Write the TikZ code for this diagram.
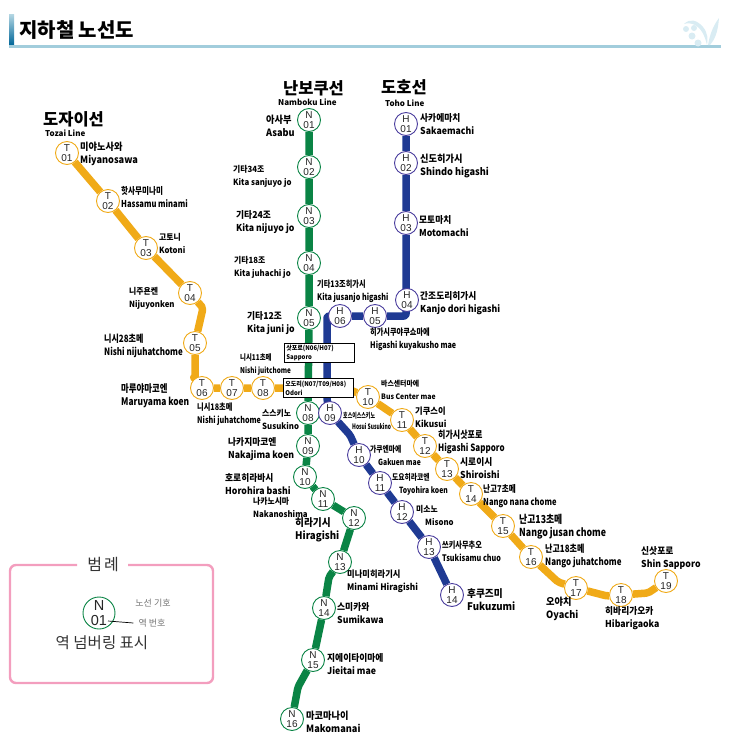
\documentclass[tikz,border=0pt]{standalone}
\usepackage{fontspec}
\setmainfont{Noto Sans CJK KR}
\newfontfamily\stnfont{Liberation Sans}
\newfontfamily\widefont[FakeStretch=0.92]{Noto Sans CJK KR}
\newfontfamily\narrowfont[FakeStretch=0.8]{Noto Sans CJK KR}
\newfontfamily\thinfont[FakeStretch=0.66]{Noto Sans CJK KR}
\usetikzlibrary{backgrounds}
\definecolor{tozai}{HTML}{F0AA18}
\definecolor{namboku}{HTML}{0A8445}
\definecolor{toho}{HTML}{1F3A93}
\definecolor{tohoring}{HTML}{4B3E9E}
\definecolor{legendpink}{HTML}{F39EBE}
\definecolor{titleblue}{HTML}{A2CDDC}
\definecolor{flowerblue}{HTML}{D9ECF3}
\tikzset{
    stn/.style={circle, draw, fill=white, line width=0.9pt, minimum size=23pt, inner sep=0pt,
        align=center, text=black!85, font=\stnfont\fontsize{10}{10.5}\selectfont},
    tstn/.style={stn, draw=tozai},
    nstn/.style={stn, draw=namboku},
    hstn/.style={stn, draw=tohoring},
    lbl/.style={anchor=west, align=left, inner sep=0pt, font=\widefont\fontsize{#1}{13}\selectfont\bfseries},
    lblnarrow/.style={anchor=west, align=left, inner sep=0pt, font=\narrowfont\fontsize{#1}{13}\selectfont\bfseries},
    lblthin/.style={anchor=west, align=left, inner sep=0pt, font=\thinfont\fontsize{#1}{11.5}\selectfont\bfseries},
    linehead/.style={anchor=west, inner sep=0pt, font=\fontsize{16.5}{18}\selectfont\bfseries},
    linesub/.style={anchor=west, inner sep=0pt, font=\fontsize{8}{9}\selectfont\bfseries},
    transferbox/.style={draw=black, fill=white, line width=0.8pt, anchor=north west, text width=66pt,
        minimum height=19pt, inner xsep=2pt, inner ysep=1pt, align=left, font=\widefont\fontsize{6.5}{9}\selectfont\bfseries},
    route/.style={line width=7.5pt, line join=round, rounded corners=2pt},
}
\begin{document}
\begin{tikzpicture}[x=1pt,y=-1pt]
    \useasboundingbox (0,0) rectangle (736,747);

    \node[inner sep=0pt, anchor=west, font=\fontsize{20}{22}\selectfont\bfseries] (title) at (19,30) {지하철 노선도};
    \shade[top color=titleblue!80, bottom color=teal!80!blue] (9,14) rectangle (14,45);
    \fill[titleblue] (9,45) rectangle (721,48);
    \fill[flowerblue] (686,29) circle (3) (694,28) circle (3) (692,36) circle (3.5) (698,43) circle (3.5);
    \fill[flowerblue] (684,24) .. controls (690,18) and (697,20) .. (703,27) .. controls (708,33) and (708,40) .. (707,45)
        .. controls (705,36) and (701,28) .. (695,25) .. controls (691,23) and (687,23) .. (684,24);
    \fill[flowerblue] (708,45) .. controls (710,34) and (713,26) .. (719,18) .. controls (718,30) and (716,38) .. (710,45) -- cycle;

    \node[linehead] (tozaihead) at (43,119) {도자이선};
    \node[linesub] (tozaisub) at (45,133) {Tozai Line};
    \node[linehead] (nambokuhead) at (283,88) {난보쿠선};
    \node[linesub] (nambokusub) at (278,102) {Namboku Line};
    \node[linehead] (tohohead) at (381,87) {도호선};
    \node[linesub] (tohosub) at (385,103) {Toho Line};

    \node[tstn] (t01) at (67,153) {T\\01};
    \node[tstn] (t02) at (108,201) {T\\02};
    \node[tstn] (t03) at (146,248) {T\\03};
    \node[tstn] (t04) at (190,293) {T\\04};
    \node[tstn] (t05) at (195,343) {T\\05};
    \node[tstn] (t06) at (202,388) {T\\06};
    \node[tstn] (t07) at (232,388) {T\\07};
    \node[tstn] (t08) at (263,388) {T\\08};
    \node[tstn] (t10) at (368,397) {T\\10};
    \node[tstn] (t11) at (402,420) {T\\11};
    \node[tstn] (t12) at (425,446) {T\\12};
    \node[tstn] (t13) at (447,469) {T\\13};
    \node[tstn] (t14) at (471,494) {T\\14};
    \node[tstn] (t15) at (503,526) {T\\15};
    \node[tstn] (t16) at (531,557) {T\\16};
    \node[tstn] (t17) at (576,588) {T\\17};
    \node[tstn] (t18) at (621,595) {T\\18};
    \node[tstn] (t19) at (666,581) {T\\19};

    \node[nstn] (n01) at (309,120) {N\\01};
    \node[nstn] (n02) at (309,167) {N\\02};
    \node[nstn] (n03) at (309,216) {N\\03};
    \node[nstn] (n04) at (309,263) {N\\04};
    \node[nstn] (n05) at (309,318) {N\\05};
    \node[nstn] (n08) at (308,413) {N\\08};
    \node[nstn] (n09) at (308,446) {N\\09};
    \node[nstn] (n10) at (305,477) {N\\10};
    \node[nstn] (n11) at (323,499) {N\\11};
    \node[nstn] (n12) at (354,518) {N\\12};
    \node[nstn] (n13) at (340,562) {N\\13};
    \node[nstn] (n14) at (324,608) {N\\14};
    \node[nstn] (n15) at (313,660) {N\\15};
    \node[nstn] (n16) at (292,719) {N\\16};

    \node[hstn] (h01) at (406,124) {H\\01};
    \node[hstn] (h02) at (406,163) {H\\02};
    \node[hstn] (h03) at (406,223) {H\\03};
    \node[hstn] (h04) at (407,300) {H\\04};
    \node[hstn] (h05) at (375,316) {H\\05};
    \node[hstn] (h06) at (340,316) {H\\06};
    \node[hstn] (h09) at (330,413) {H\\09};
    \node[hstn] (h10) at (359,455) {H\\10};
    \node[hstn] (h11) at (380,483) {H\\11};
    \node[hstn] (h12) at (402,512) {H\\12};
    \node[hstn] (h13) at (429,547) {H\\13};
    \node[hstn] (h14) at (452,595) {H\\14};

    \coordinate (tbend1) at (203,308);
    \coordinate (tbend2) at (195,379);
    \coordinate (tbend3) at (345,388);
    \coordinate (tbend4) at (558,582);
    \coordinate (tbend5) at (607,596);
    \coordinate (tbend6) at (648,593);
    \coordinate (nbend1) at (329,577);
    \coordinate (nbend2) at (298,687);
    \coordinate (hbend1) at (406,316);
    \coordinate (hbend2) at (327,316);
    \coordinate (hbend3) at (327,400);
    \coordinate (hbend4) at (350,435);

    \begin{scope}[on background layer]
        \draw[route, tozai] (t01) -- (t02) -- (t03) -- (t04) -- (tbend1) -- (t05) -- (tbend2) -- (t06) -- (t07) -- (t08)
            -- (tbend3) -- (t10) -- (t11) -- (t12) -- (t13) -- (t14) -- (t15) -- (t16) -- (tbend4) -- (t17) -- (tbend5)
            -- (t18) -- (tbend6) -- (t19);
        \draw[route, namboku] (n01) -- (n02) -- (n03) -- (n04) -- (n05) -- (n08) -- (n09) -- (n10) -- (n11) -- (n12)
            -- (n13) -- (nbend1) -- (n14) -- (n15) -- (nbend2) -- (n16);
        \draw[route, toho] (h01) -- (h02) -- (h03) -- (hbend1) -- (h05) -- (h06) -- (hbend2) -- (hbend3)
            -- (h09) -- (hbend4) -- (h10) -- (h11) -- (h12) -- (h13) -- (h14);
    \end{scope}

    \node[transferbox] (sapporo) at (284,343) {삿포로(N06/H07)\\Sapporo};
    \node[transferbox] (odori) at (283,378) {오도리(N07/T09/H08)\\Odori};

    \node[lbl=10] (lt01) at (80,154) {미야노사와\\Miyanosawa};
    \node[lblnarrow=9.5] (lt02) at (121,197) {핫사무미나미\\Hassamu minami};
    \node[lbl=8.5] (lt03) at (159,243) {고토니\\Kotoni};
    \node[lbl=8.5] (lt04) at (129,298) {니주욘켄\\Nijuyonken};
    \node[lblnarrow=10] (lt05) at (104,346) {니시28초메\\Nishi nijuhatchome};
    \node[lblnarrow=10.5] (lt06) at (121,396) {마루야마코엔\\Maruyama koen};
    \node[lblnarrow=9] (lt07) at (197,414) {니시18초메\\Nishi juhatchome};
    \node[lblnarrow=8] (lt08) at (240,364) {니시11초메\\Nishi juitchome};
    \node[lbl=7.5] (lt10) at (381,390) {바스센터마에\\Bus Center mae};
    \node[lbl=9] (lt11) at (415,417) {기쿠스이\\Kikusui};
    \node[lblnarrow=10] (lt12) at (438,442) {히가시삿포로\\Higashi Sapporo};
    \node[lbl=9.5] (lt13) at (460,468) {시로이시\\Shiroishi};
    \node[lblnarrow=9.5] (lt14) at (483,496) {난고7초메\\Nango nana chome};
    \node[lblnarrow=11] (lt15) at (519,527) {난고13초메\\Nango jusan chome};
    \node[lblnarrow=10] (lt16) at (545,556) {난고18초메\\Nango juhatchome};
    \node[lbl=10] (lt17) at (546,609) {오야치\\Oyachi};
    \node[lbl=9.5] (lt18) at (605,618) {히바리가오카\\Hibarigaoka};
    \node[lbl=9.5] (lt19) at (641,558) {신삿포로\\Shin Sapporo};

    \node[lbl=10] (ln01) at (266,126) {아사부\\Asabu};
    \node[lbl=8.5] (ln02) at (233,176) {기타34조\\Kita sanjuyo jo};
    \node[lbl=9.5] (ln03) at (236,222) {기타24조\\Kita nijuyo jo};
    \node[lbl=8.5] (ln04) at (234,267) {기타18조\\Kita juhachi jo};
    \node[lbl=9.5] (ln05) at (247,323) {기타12조\\Kita juni jo};
    \node[lbl=8.5] (ln08) at (262,419) {스스키노\\Susukino};
    \node[lbl=9.5] (ln09) at (228,449) {나카지마코엔\\Nakajima koen};
    \node[lbl=9.5] (ln10) at (225,484) {호로히라바시\\Horohira bashi};
    \node[lbl=8.5] (ln11) at (253,507) {나카노시마\\Nakanoshima};
    \node[lbl=10.5] (ln12) at (295,530) {히라기시\\Hiragishi};
    \node[lbl=9] (ln13) at (347,581) {미나미히라기시\\Minami Hiragishi};
    \node[lbl=9.5] (ln14) at (337,613) {스미카와\\Sumikawa};
    \node[lbl=9.5] (ln15) at (327,664) {지에이타이마에\\Jieitai mae};
    \node[lbl=10] (ln16) at (306,722) {마코마나이\\Makomanai};

    \node[lbl=9.5] (lh01) at (420,124) {사카에마치\\Sakaemachi};
    \node[lbl=10] (lh02) at (420,166) {신도히가시\\Shindo higashi};
    \node[lbl=9.5] (lh03) at (419,226) {모토마치\\Motomachi};
    \node[lbl=9.5] (lh04) at (420,303) {간조도리히가시\\Kanjo dori higashi};
    \node[lblnarrow=9] (lh05) at (370,339) {히가시쿠야쿠쇼마에\\Higashi kuyakusho mae};
    \node[lblnarrow=9] (lh06) at (317,291) {기타13조히가시\\Kita jusanjo higashi};
    \node[lblthin=7.5] (lh09) at (343,421) {호스이스스키노\\\hspace*{9pt}Hosui Susukino};
    \node[lblnarrow=8.5] (lh10) at (370,455) {가쿠엔마에\\\hspace*{8pt}Gakuen mae};
    \node[lblnarrow=8.5] (lh11) at (392,484) {도요히라코엔\\\hspace*{7pt}Toyohira koen};
    \node[lbl=8.5] (lh12) at (416,515) {미소노\\\hspace*{9pt}Misono};
    \node[lblnarrow=9] (lh13) at (442,551) {쓰키사무추오\\Tsukisamu chuo};
    \node[lbl=10.5] (lh14) at (467,600) {후쿠즈미\\Fukuzumi};

    \draw[legendpink, line width=2.4pt, rounded corners=6pt] (77,565) -- (10,565) -- (10,683) -- (213,683) -- (213,565) -- (128,565);
    \node[inner sep=0pt, font=\fontsize{16}{18}\selectfont, text=black!80] (legendtitle) at (103,565) {범\hspace{2pt}례};
    \node[stn, draw=namboku, minimum size=32pt, font=\stnfont\fontsize{14.5}{15}\selectfont] (legendstn) at (99,613) {N\\01};
    \node[inner sep=0pt, font=\fontsize{9}{10}\selectfont, text=black!55] (legendline) at (153,603) {노선 기호};
    \node[inner sep=0pt, font=\fontsize{9}{10}\selectfont, text=black!55] (legendnum) at (152,623) {역 번호};
    \node[inner sep=0pt, font=\fontsize{15.5}{17}\selectfont, text=black!80] (legendcaption) at (102,643) {역 넘버링 표시};
    \coordinate (legendtick) at (108,621);
    \draw[black, line width=0.7pt] (legendtick) -- ([xshift=-5pt]legendnum.west);
\end{tikzpicture}
\end{document}
